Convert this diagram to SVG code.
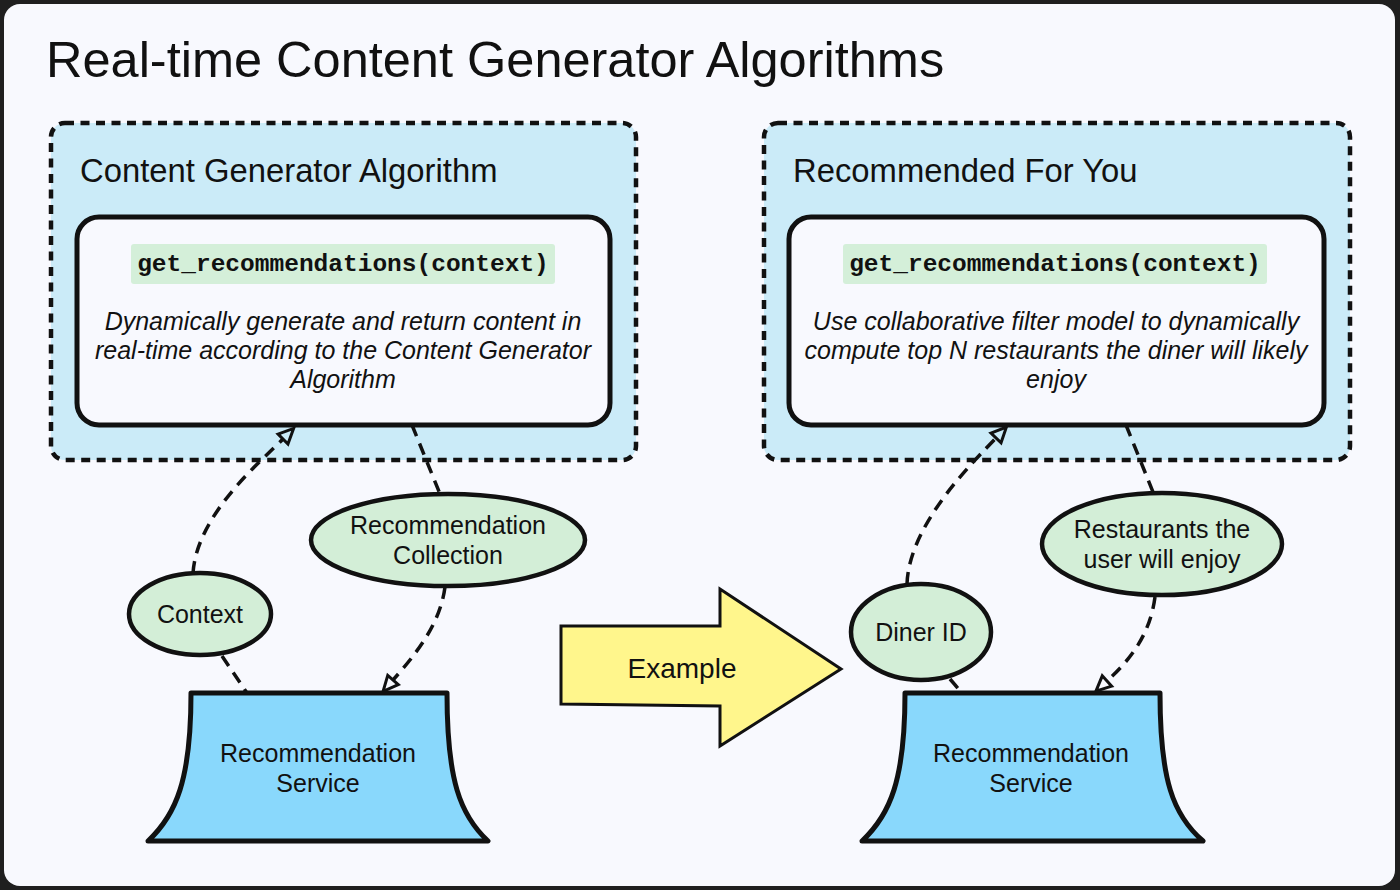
<svg xmlns="http://www.w3.org/2000/svg" width="1400" height="890" viewBox="0 0 1400 890">
<style>
.t{font-family:"Liberation Sans",Arial,sans-serif;fill:#111}
.lbl{font-size:25px;text-anchor:middle}
.desc{font-size:25px;font-style:italic;text-anchor:middle}
.code{font-family:"Liberation Mono","Courier New",monospace;font-weight:bold;font-size:24.5px;text-anchor:middle;fill:#111}
.grp{fill:#cbebf8;stroke:#111;stroke-width:4.5;stroke-dasharray:9 6.5}
.box{fill:#f8f9fe;stroke:#111;stroke-width:5}
.codebg{fill:#d4efd9}
.ell{fill:#d3eed7;stroke:#111;stroke-width:4.5}
.svc{fill:#89d8fc;stroke:#111;stroke-width:5;stroke-linejoin:round}
.con{fill:none;stroke:#111;stroke-width:3.5;stroke-dasharray:12 8}
</style>
<defs>
<marker id="tri" markerUnits="userSpaceOnUse" markerWidth="22" markerHeight="22" viewBox="-2 -10 22 20" refX="0" refY="0" orient="auto">
<path d="M0,-7 L15,0 L0,7 Z" fill="none" stroke="#111" stroke-width="3" stroke-linejoin="miter"/>
</marker>
</defs>
<rect x="0" y="0" width="1400" height="890" fill="#1f1f1f"/>
<rect x="4" y="4" width="1391" height="882" rx="16" fill="#f8f9fe"/>
<text id="title" class="t" x="46" y="77" font-size="50.5">Real-time Content Generator Algorithms</text>

<g id="group-left">
<rect class="grp" x="51" y="123" width="585" height="337" rx="14"/>
<text class="t" x="80" y="182" font-size="32.8">Content Generator Algorithm</text>
</g>
<g id="box-left">
<rect class="box" x="77" y="217" width="533" height="208" rx="22"/>
<rect class="codebg" x="131" y="244" width="424" height="40" rx="3"/>
<text class="code" x="343" y="271">get_recommendations(context)</text>
<text class="t desc" x="343" y="330">Dynamically generate and return content in</text>
<text class="t desc" x="343" y="359">real-time according to the Content Generator</text>
<text class="t desc" x="343" y="388">Algorithm</text>
</g>

<g id="group-right">
<rect class="grp" x="764" y="123" width="586" height="337" rx="14"/>
<text class="t" x="793" y="182" font-size="32.8">Recommended For You</text>
</g>
<g id="box-right">
<rect class="box" x="789" y="217" width="535" height="208" rx="22"/>
<rect class="codebg" x="843" y="244" width="424" height="40" rx="3"/>
<text class="code" x="1055" y="271">get_recommendations(context)</text>
<text class="t desc" x="1056" y="330">Use collaborative filter model to dynamically</text>
<text class="t desc" x="1056" y="359">compute top N restaurants the diner will likely</text>
<text class="t desc" x="1056" y="388">enjoy</text>
</g>

<g id="connectors">
<path class="con" d="M193,573 C197,515 259,463 283,439" marker-end="url(#tri)"/>
<path class="con" d="M412,425 L440,494"/>
<path class="con" d="M445,587 C440,625 415,655 393,680" marker-end="url(#tri)"/>
<path class="con" d="M222,656 L247,693"/>
<path class="con" d="M907,584 C909,525 972,463 996,438" marker-end="url(#tri)"/>
<path class="con" d="M1126,425 L1153,492"/>
<path class="con" d="M1155,597 C1150,635 1130,660 1107,681" marker-end="url(#tri)"/>
<path class="con" d="M950,679 L962,693"/>
</g>

<g id="context">
<ellipse class="ell" cx="200" cy="614" rx="71" ry="41"/>
<text class="t lbl" x="200" y="623">Context</text>
</g>
<g id="rec-collection">
<ellipse class="ell" cx="448" cy="540" rx="137" ry="46"/>
<text class="t lbl" x="448" y="534">Recommendation</text>
<text class="t lbl" x="448" y="564">Collection</text>
</g>
<g id="service-left">
<path class="svc" d="M191,693 L447,693 C447,780 460,815 488,841 L148,841 C176,815 191,780 191,693 Z"/>
<text class="t lbl" x="318" y="762">Recommendation</text>
<text class="t lbl" x="318" y="792">Service</text>
</g>

<g id="example-arrow">
<path d="M561,626 L720,626 L720,589 L841,669 L720,746 L720,706 L561,704 Z" fill="#fff68c" stroke="#111" stroke-width="3" stroke-linejoin="miter"/>
<text class="t" x="682" y="678" font-size="28" text-anchor="middle">Example</text>
</g>

<g id="diner-id">
<ellipse class="ell" cx="921" cy="632" rx="70" ry="48"/>
<text class="t lbl" x="921" y="641">Diner ID</text>
</g>
<g id="restaurants">
<ellipse class="ell" cx="1162" cy="544" rx="120" ry="51"/>
<text class="t lbl" x="1162" y="538">Restaurants the</text>
<text class="t lbl" x="1162" y="568">user will enjoy</text>
</g>
<g id="service-right">
<path class="svc" d="M905,693 L1160,693 C1160,780 1173,815 1203,841 L862,841 C890,815 905,780 905,693 Z"/>
<text class="t lbl" x="1031" y="762">Recommendation</text>
<text class="t lbl" x="1031" y="792">Service</text>
</g>
</svg>
